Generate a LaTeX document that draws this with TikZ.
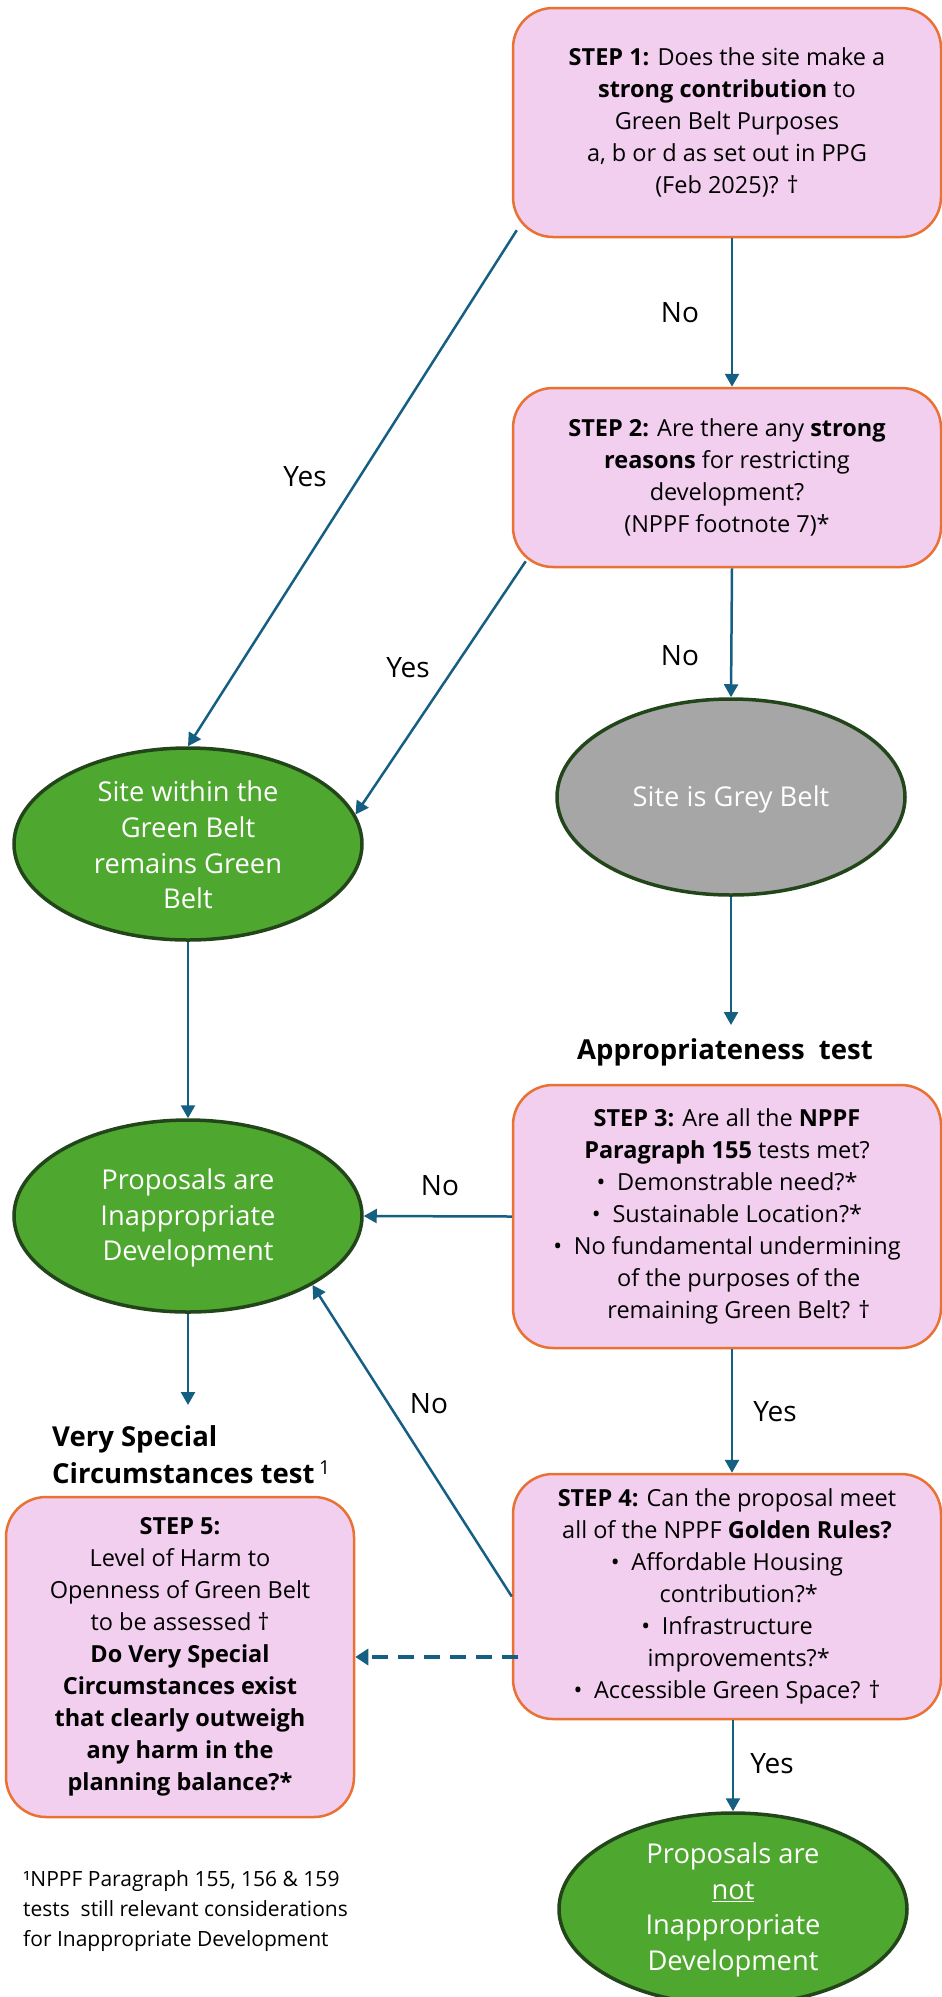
\documentclass[tikz,border=0pt]{standalone}
\usepackage{fontspec}
\setmainfont{Open Sans}
\usetikzlibrary{arrows.meta,calc,shapes.geometric}
\definecolor{pinkfill}{HTML}{F2CEEF}
\definecolor{orangeline}{HTML}{E97132}
\definecolor{arrowblue}{HTML}{156082}
\definecolor{greenfill}{HTML}{4EA72E}
\definecolor{greenline}{HTML}{22461A}
\definecolor{greyfill}{HTML}{A6A6A6}
\tikzset{
  stepbox/.style={draw=orangeline, line width=2.5pt, fill=pinkfill, rounded corners=40pt,
    align=center, inner sep=0pt, minimum width=428pt, font=\fontsize{23.5}{32}\selectfont},
  gell/.style={ellipse, draw=greenline, line width=3.5pt, fill=greenfill, inner sep=0pt,
    minimum width=348pt, minimum height=192pt},
  greyell/.style={gell, fill=greyfill, minimum height=196pt},
  etext/.style={text=white, align=center, inner sep=0pt, font=\fontsize{27.3}{35.5}\selectfont},
  lab/.style={inner sep=0pt, font=\fontsize{28}{32}\selectfont},
  ttl/.style={inner sep=0pt, font=\bfseries\fontsize{27.5}{37}\selectfont},
  fnote/.style={inner sep=0pt, align=left, font=\fontsize{21}{30}\selectfont},
  arr/.style={draw=arrowblue, line width=2.5pt, -{Triangle[length=13pt,width=14pt]}},
  dasharr/.style={draw=arrowblue, line width=3.5pt, dash pattern=on 16pt off 10pt,
    -{Triangle[length=13pt,width=16pt]}}
}
\begin{document}
\begin{tikzpicture}[x=1pt,y=-1pt]
\useasboundingbox (0,0) rectangle (942,1997);
% step boxes
\node[stepbox, minimum height=229pt] (s1) at (727,122.5)
  {\textbf{STEP 1:} Does the site make a\\ \textbf{strong contribution} to\\ Green Belt Purposes\\ a, b or d as set out in PPG\\ (Feb 2025)? †};
\node[stepbox, minimum height=179pt] (s2) at (727,477.5)
  {\textbf{STEP 2:} Are there any \textbf{strong}\\ \textbf{reasons} for restricting\\ development?\\ (NPPF footnote 7)*};
\node[stepbox, minimum height=263pt] (s3) at (727,1216.5)
  {\textbf{STEP 3:} Are all the \textbf{NPPF}\\ \textbf{Paragraph 155} tests met?\\ •\enspace Demonstrable need?*\\ •\enspace Sustainable Location?*\\ •\enspace No fundamental undermining\\ \hspace*{1em}of the purposes of the\\ \hspace*{1em}remaining Green Belt? †};
\node[stepbox, minimum height=245pt] (s4) at (727,1596.5)
  {\textbf{STEP 4:} Can the proposal meet\\ all of the NPPF \textbf{Golden Rules?}\\ •\enspace Affordable Housing\\ \hspace*{1em}contribution?*\\ •\enspace Infrastructure\\ \hspace*{1em}improvements?*\\ •\enspace Accessible Green Space? †};
\node[stepbox, minimum width=348pt, minimum height=320pt] (s5) at (180,1657)
  {\textbf{STEP 5:}\\ Level of Harm to\\ Openness of Green Belt\\ to be assessed †\\ \textbf{Do Very Special}\\ \textbf{Circumstances exist}\\ \textbf{that clearly outweigh}\\ \textbf{any harm in the}\\ \textbf{planning balance?*}};
% ellipses
\node[gell] (g1) at (188,844) {};
\node[etext] (g1t) at (188,845) {Site within the\\Green Belt\\remains Green\\Belt};
\node[greyell] (grey) at (731,797) {};
\node[etext] (greyt) at (731,799) {Site is Grey Belt};
\node[gell] (g2) at (188,1216) {};
\node[etext] (g2t) at (188,1218) {Proposals are\\Inappropriate\\Development};
\node[gell] (g3) at (733,1909) {};
\node[etext] (g3t) at (733,1910) {Proposals are\\\underline{not}\\Inappropriate\\Development};
% titles and footnote
\node[ttl] (apt) at (725,1052) {Appropriateness~~test};
\node[ttl, align=left, anchor=west] (vst) at (52,1455) {Very Special\\Circumstances test\,\textsuperscript{\mdseries 1}};
\node[fnote, anchor=west] (fn) at (23,1911) {¹NPPF Paragraph 155, 156 \& 159\\tests~~still relevant considerations\\for Inappropriate Development};
% labels
\node[lab] (no1) at (680,313) {No};
\node[lab] (yes1) at (305,477) {Yes};
\node[lab] (yes2) at (408,668) {Yes};
\node[lab] (no2) at (680,656) {No};
\node[lab] (no3) at (440,1186) {No};
\node[lab] (no4) at (429,1404) {No};
\node[lab] (yes3) at (775,1412) {Yes};
\node[lab] (yes4) at (772,1764) {Yes};
% connectors
\coordinate (aptin) at (731,1025);
\coordinate (vstin) at (188,1405);
\draw[arr] ([xshift=5pt]s1.south) -- ([xshift=5pt]s2.north);
\draw[arr] ([xshift=5pt,yshift=8pt]s1.south west) -- (g1.north);
\draw[arr] ([xshift=14pt,yshift=7pt]s2.south west) -- (g1.10);
\draw[arr] ([xshift=5pt]s2.south) -- (grey.north);
\draw[arr] (grey.south) -- (aptin);
\draw[arr] (g1.south) -- (g2.north);
\draw[arr] (s3.west) -- (g2.east);
\draw[arr] (g2.south) -- (vstin);
\draw[arr] ([xshift=5pt]s3.south) -- ([xshift=5pt]s4.north);
\draw[arr] (s4.west) -- (g2.331);
\draw[dasharr] ($(s4.west |- s5.east)+(6,0)$) -- (s5.east);
\draw[arr] ([xshift=6pt]s4.south) -- (g3.north);
\end{tikzpicture}
\end{document}
